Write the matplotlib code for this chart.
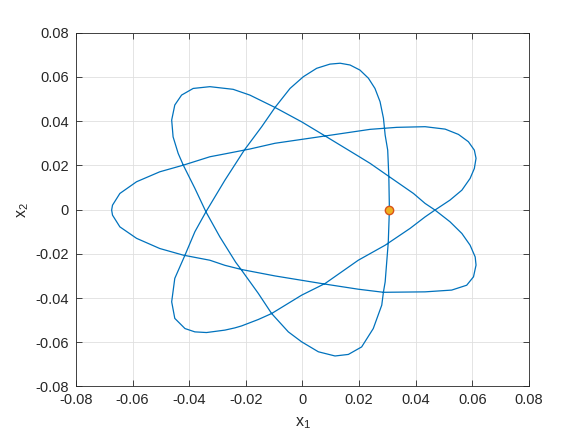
import numpy as np
import matplotlib
matplotlib.use("Agg")
import matplotlib.pyplot as plt

# orbit path, in drawing order (x1, x2)
x1 = [0.0307, 0.0305, 0.0301, 0.0292, 0.0286, 0.0274, 0.0256, 0.0233, 0.0203, 0.0168,
      0.0133, 0.0097, 0.0050, 0.0003, -0.0044, -0.0097, -0.0144, -0.0205, -0.0274, -0.0341,
      -0.0380, -0.0415, -0.0451, -0.0462, -0.0451, -0.0415, -0.0380, -0.0339, -0.0274, -0.0239,
      -0.0215, -0.0156, -0.0109, -0.0003, 0.0080, 0.0197, 0.0292, 0.0380, 0.0433, 0.0468,
      0.0521, 0.0563, 0.0592, 0.0607, 0.0613, 0.0607, 0.0586, 0.0551, 0.0504, 0.0433,
      0.0333, 0.0239, 0.0080, -0.0097, -0.0186, -0.0274, -0.0327, -0.0421, -0.0504, -0.0586,
      -0.0645, -0.0671, -0.0674, -0.0671, -0.0645, -0.0586, -0.0504, -0.0421, -0.0327, -0.0274,
      -0.0215, -0.0097, 0.0080, 0.0197, 0.0286, 0.0433, 0.0527, 0.0580, 0.0604, 0.0613,
      0.0610, 0.0592, 0.0563, 0.0521, 0.0468, 0.0433, 0.0392, 0.0303, 0.0239, 0.0197,
      0.0080, -0.0003, -0.0097, -0.0186, -0.0245, -0.0327, -0.0386, -0.0427, -0.0451, -0.0462,
      -0.0457, -0.0439, -0.0421, -0.0380, -0.0341, -0.0292, -0.0236, -0.0215, -0.0156, -0.0109,
      -0.0050, -0.0003, 0.0056, 0.0115, 0.0162, 0.0209, 0.0250, 0.0280, 0.0286, 0.0292,
      0.0303, 0.0307]
x2 = [0.0000, 0.0148, 0.0269, 0.0337, 0.0413, 0.0488, 0.0548, 0.0594, 0.0631, 0.0654,
      0.0662, 0.0658, 0.0639, 0.0601, 0.0548, 0.0462, 0.0375, 0.0270, 0.0133, -0.0010,
      -0.0100, -0.0206, -0.0311, -0.0417, -0.0492, -0.0538, -0.0553, -0.0556, -0.0545, -0.0535,
      -0.0526, -0.0497, -0.0470, -0.0387, -0.0334, -0.0229, -0.0161, -0.0085, -0.0033, -0.0002,
      0.0043, 0.0088, 0.0141, 0.0186, 0.0232, 0.0269, 0.0307, 0.0340, 0.0364, 0.0375,
      0.0372, 0.0363, 0.0333, 0.0300, 0.0274, 0.0252, 0.0239, 0.0201, 0.0171, 0.0126,
      0.0073, 0.0020, -0.0002, -0.0025, -0.0078, -0.0130, -0.0176, -0.0206, -0.0229, -0.0252,
      -0.0271, -0.0300, -0.0337, -0.0360, -0.0374, -0.0372, -0.0364, -0.0342, -0.0304, -0.0251,
      -0.0214, -0.0161, -0.0108, -0.0055, -0.0002, 0.0028, 0.0073, 0.0152, 0.0209, 0.0242,
      0.0333, 0.0397, 0.0462, 0.0518, 0.0544, 0.0556, 0.0548, 0.0518, 0.0473, 0.0405,
      0.0329, 0.0254, 0.0201, 0.0096, -0.0010, -0.0123, -0.0238, -0.0274, -0.0379, -0.0470,
      -0.0553, -0.0598, -0.0643, -0.0662, -0.0655, -0.0621, -0.0538, -0.0432, -0.0372, -0.0327,
      -0.0148, 0.0000]

# starting point marker
start_x = [0.0307]
start_y = [0.0]

tick_vals = [-0.08, -0.06, -0.04, -0.02, 0, 0.02, 0.04, 0.06, 0.08]
tick_labels = ['-0.08', '-0.06', '-0.04', '-0.02', '0', '0.02', '0.04', '0.06', '0.08']

plt.rcParams['font.family'] = ['Liberation Sans', 'DejaVu Sans']
plt.rcParams['mathtext.default'] = 'regular'

fig = plt.figure(figsize=(5.84, 4.38), dpi=100)
ax = fig.add_axes([0.1301, 0.1176, 0.7757, 0.8077])

ax.plot(x1, x2, color='#0072BD', lw=0.9, solid_joinstyle='round')
ax.plot(start_x, start_y, 'o', mfc='#EDB120', mec='#D95319', ms=6, mew=1.0)

ax.set_xlim(-0.08, 0.08)
ax.set_ylim(-0.08, 0.08)
ax.set_xticks(tick_vals)
ax.set_xticklabels(tick_labels)
ax.set_yticks(tick_vals)
ax.set_yticklabels(tick_labels)

ax.grid(True, color='#dfdfdf', lw=0.6)
ax.set_axisbelow(True)
ax.tick_params(direction='in', top=True, right=True, length=4, width=0.6,
               colors='#262626', labelsize=10.5, pad=5)
for s in ax.spines.values():
    s.set_color('#262626')
    s.set_linewidth(0.6)

ax.set_xlabel('x$_1$', fontsize=11.5, color='#262626', labelpad=6)
ax.set_ylabel('x$_2$', fontsize=11.5, color='#262626', labelpad=3)

fig.savefig('out.png', dpi=100, facecolor='white')
